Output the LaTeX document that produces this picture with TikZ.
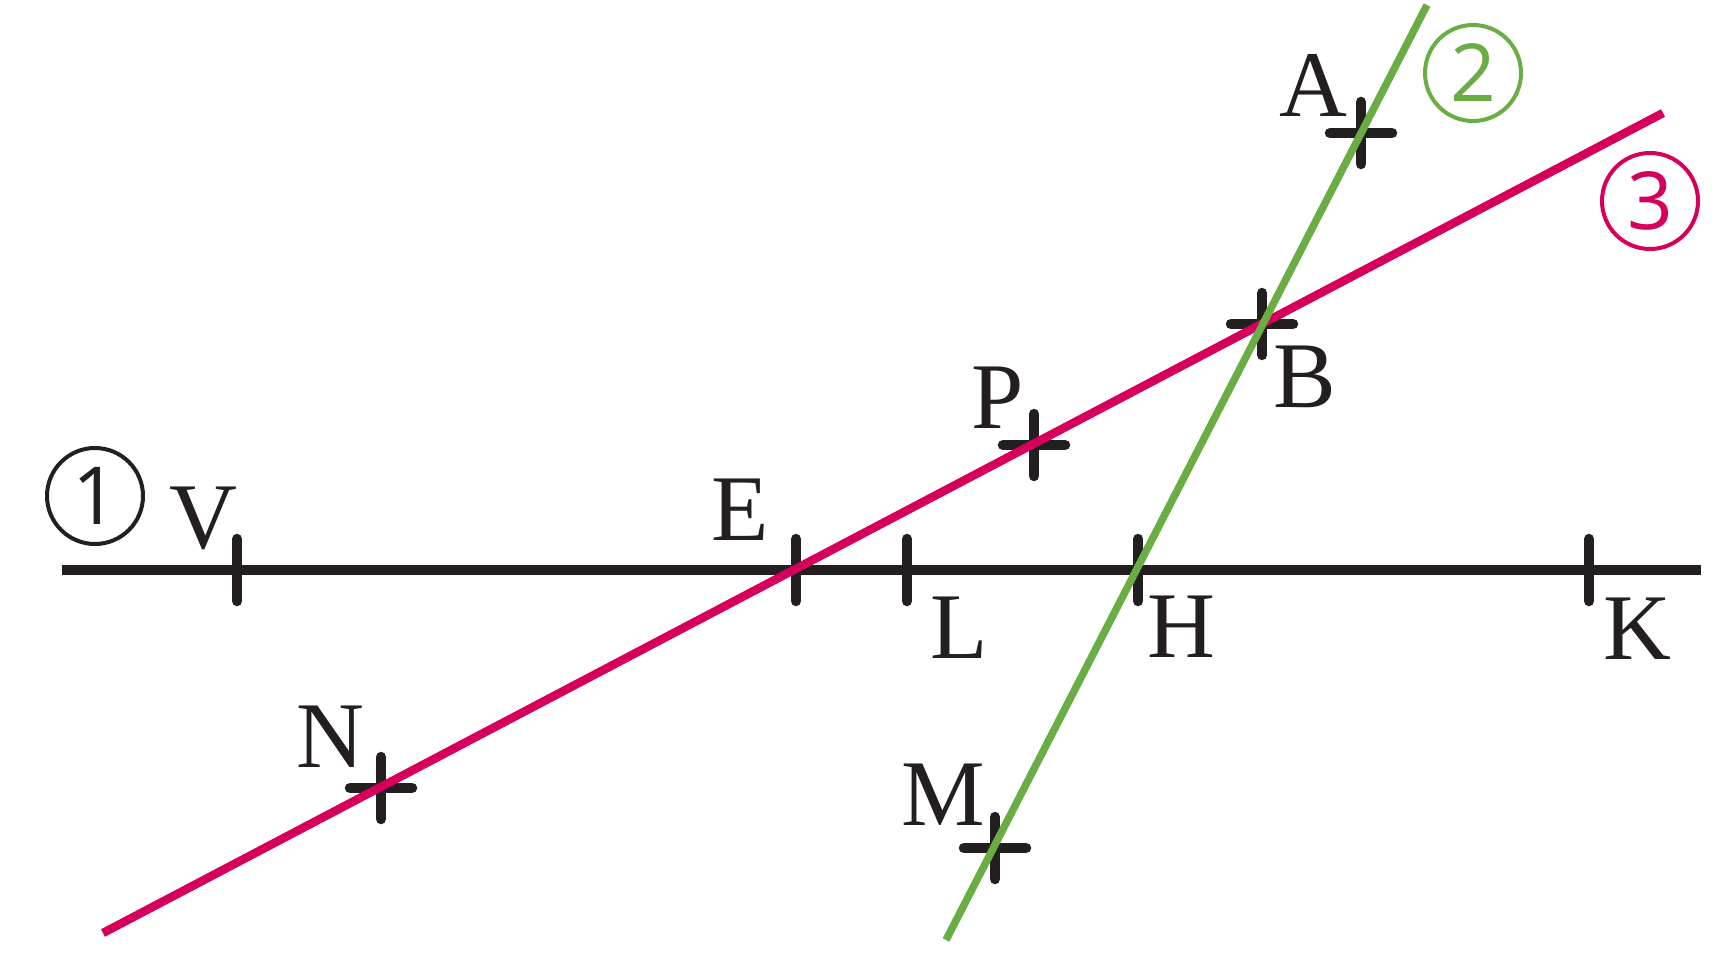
\documentclass[tikz,border=0pt]{standalone}
\usepackage{fontspec}
\setmainfont{Liberation Serif}
\newfontfamily\digitfont{Open Sans}
\definecolor{lgreen}{HTML}{6AAD45}
\definecolor{lred}{HTML}{D6005A}
\definecolor{ink}{HTML}{231F20}
\tikzset{
  crossmark/.pic={\draw[ink,line width=10.5pt,line cap=round] (-31,0)--(31,0) (0,-31)--(0,31);},
  ptlabel/.style={anchor=base,inner sep=0pt,text=ink,font=\fontsize{94}{94}\selectfont},
  numcirc/.style={circle,draw=#1,text=#1,line width=4pt,minimum size=96pt,inner sep=0pt,font=\digitfont\fontsize{80}{80}\selectfont},
  blackline/.style={ink,line width=10.5pt},
  redline/.style={lred,line width=8.5pt},
  greenline/.style={lgreen,line width=7.5pt}
}
\begin{document}
\begin{tikzpicture}[x=1pt,y=-1pt]
\useasboundingbox (0,0) rectangle (1731,957);
% points
\coordinate (V) at (237,570);
\coordinate (E) at (796,570);
\coordinate (L) at (907,570);
\coordinate (H) at (1138,570);
\coordinate (K) at (1589,570);
\coordinate (N) at (381,788);
\coordinate (P) at (1034,445);
\coordinate (B) at (1262,324);
\coordinate (A) at (1361,133);
\coordinate (M) at (995,848);
% line ends
\coordinate (l1a) at (62,570);
\coordinate (l1b) at (1701,570);
\coordinate (l2a) at (946,940);
\coordinate (l2b) at (1427,5);
\coordinate (l3a) at (103,933);
\coordinate (l3b) at (1663,113);
% line 1
\draw[blackline] (l1a) -- (l1b);
% crosses
\foreach \p in {V,E,L,H,K,N,P,B,A,M} \pic at (\p) {crossmark};
% lines 2 and 3
\draw[redline] (l3a) -- (l3b);
\draw[greenline] (l2a) -- (l2b);
% labels
\node[ptlabel] (tV) at (203,548) {V};
\node[ptlabel] (tE) at (740,540) {E};
\node[ptlabel] (tL) at (959,658) {L};
\node[ptlabel] (tH) at (1181,657) {H};
\node[ptlabel] (tK) at (1637,659) {K};
\node[ptlabel] (tN) at (330,767) {N};
\node[ptlabel] (tM) at (943,825) {M};
\node[ptlabel] (tP) at (998,428) {P};
\node[ptlabel] (tB) at (1305,407) {B};
\node[ptlabel] (tA) at (1313,117) {A};
% circled numbers
\node[numcirc=ink] (c1) at (95,496) {1};
\node[numcirc=lgreen] (c2) at (1473,73) {2};
\node[numcirc=lred] (c3) at (1650,201) {3};
\end{tikzpicture}
\end{document}
